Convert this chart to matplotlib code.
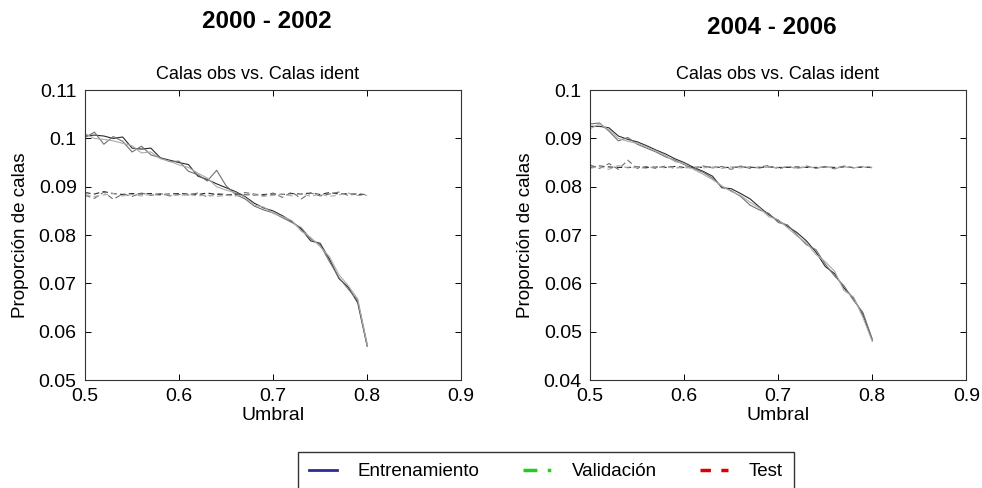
import numpy as np
import matplotlib.pyplot as plt
from matplotlib.lines import Line2D

plt.rcParams['font.family'] = ['Liberation Sans', 'DejaVu Sans']

# umbral 0.50 ... 0.80
umbral = np.round(np.arange(0.50, 0.805, 0.01), 2)

# 2000 - 2002, curva descendente
p1_dec_ent = [0.1005, 0.1007, 0.1005, 0.1000, 0.1003, 0.0980, 0.0978, 0.0980, 0.0960, 0.0955,
              0.0950, 0.0946, 0.0922, 0.0915, 0.0906, 0.0898, 0.0890, 0.0880, 0.0866, 0.0856,
              0.0850, 0.0840, 0.0828, 0.0812, 0.0788, 0.0783, 0.0750, 0.0710, 0.0692, 0.0660, 0.0570]
p1_dec_val = [0.1002, 0.1013, 0.0988, 0.1004, 0.0994, 0.0972, 0.0984, 0.0966, 0.0960, 0.0952,
              0.0953, 0.0932, 0.0925, 0.0912, 0.0934, 0.0902, 0.0884, 0.0875, 0.0860, 0.0852,
              0.0846, 0.0836, 0.0826, 0.0815, 0.0792, 0.0780, 0.0745, 0.0712, 0.0688, 0.0665, 0.0575]
p1_dec_test = [0.1010, 0.1000, 0.0998, 0.0995, 0.0990, 0.0985, 0.0970, 0.0972, 0.0958, 0.0953,
               0.0945, 0.0940, 0.0928, 0.0918, 0.0900, 0.0893, 0.0888, 0.0878, 0.0862, 0.0858,
               0.0845, 0.0838, 0.0830, 0.0808, 0.0795, 0.0776, 0.0755, 0.0718, 0.0695, 0.0668, 0.0572]
# 2000 - 2002, curva plana
p1_flat_ent = [0.0888, 0.0885, 0.0890, 0.0886, 0.0884, 0.0886, 0.0885, 0.0886, 0.0884, 0.0885,
               0.0886, 0.0885, 0.0884, 0.0887, 0.0884, 0.0883, 0.0885, 0.0884, 0.0883, 0.0884,
               0.0885, 0.0884, 0.0886, 0.0885, 0.0887, 0.0884, 0.0888, 0.0885, 0.0886, 0.0884, 0.0884]
p1_flat_val = [0.0882, 0.0876, 0.0889, 0.0874, 0.0885, 0.0880, 0.0887, 0.0882, 0.0886, 0.0881,
               0.0884, 0.0883, 0.0887, 0.0879, 0.0886, 0.0884, 0.0882, 0.0888, 0.0885, 0.0882,
               0.0887, 0.0878, 0.0889, 0.0875, 0.0887, 0.0881, 0.0885, 0.0889, 0.0882, 0.0886, 0.0883]
p1_flat_test = [0.0884, 0.0880, 0.0883, 0.0886, 0.0881, 0.0884, 0.0881, 0.0884, 0.0882, 0.0884,
                0.0882, 0.0884, 0.0881, 0.0883, 0.0880, 0.0882, 0.0881, 0.0883, 0.0884, 0.0880,
                0.0882, 0.0885, 0.0881, 0.0886, 0.0880, 0.0885, 0.0880, 0.0883, 0.0887, 0.0882, 0.0882]

# 2004 - 2006, curva descendente
p2_dec_ent = [0.0925, 0.0925, 0.0922, 0.0905, 0.0898, 0.0893, 0.0885, 0.0876, 0.0868, 0.0858,
              0.0850, 0.0840, 0.0832, 0.0822, 0.0798, 0.0796, 0.0786, 0.0775, 0.0758, 0.0742,
              0.0730, 0.0718, 0.0705, 0.0688, 0.0665, 0.0635, 0.0620, 0.0590, 0.0570, 0.0535, 0.0482]
p2_dec_val = [0.0930, 0.0932, 0.0915, 0.0895, 0.0902, 0.0888, 0.0880, 0.0872, 0.0862, 0.0855,
              0.0846, 0.0838, 0.0830, 0.0818, 0.0800, 0.0792, 0.0780, 0.0762, 0.0752, 0.0745,
              0.0726, 0.0721, 0.0700, 0.0680, 0.0670, 0.0640, 0.0615, 0.0595, 0.0565, 0.0540, 0.0485]
p2_dec_test = [0.0920, 0.0930, 0.0918, 0.0900, 0.0894, 0.0890, 0.0882, 0.0874, 0.0865, 0.0852,
               0.0848, 0.0836, 0.0826, 0.0815, 0.0802, 0.0790, 0.0782, 0.0768, 0.0756, 0.0738,
               0.0732, 0.0715, 0.0698, 0.0684, 0.0660, 0.0645, 0.0625, 0.0585, 0.0572, 0.0530, 0.0480]
# 2004 - 2006, curva plana
p2_flat_ent = [0.0840, 0.0843, 0.0841, 0.0840, 0.0840, 0.0841, 0.0840, 0.0841, 0.0840, 0.0842,
               0.0840, 0.0841, 0.0840, 0.0841, 0.0840, 0.0840, 0.0841, 0.0840, 0.0840, 0.0841,
               0.0840, 0.0840, 0.0841, 0.0840, 0.0840, 0.0841, 0.0840, 0.0841, 0.0840, 0.0840, 0.0840]
p2_flat_val = [0.0845, 0.0838, 0.0848, 0.0836, 0.0855, 0.0838, 0.0842, 0.0838, 0.0843, 0.0838,
               0.0842, 0.0837, 0.0843, 0.0839, 0.0842, 0.0836, 0.0843, 0.0838, 0.0841, 0.0844,
               0.0837, 0.0842, 0.0838, 0.0843, 0.0838, 0.0842, 0.0837, 0.0843, 0.0839, 0.0842, 0.0840]
p2_flat_test = [0.0838, 0.0842, 0.0836, 0.0844, 0.0839, 0.0840, 0.0838, 0.0842, 0.0839, 0.0841,
                0.0838, 0.0842, 0.0839, 0.0841, 0.0838, 0.0841, 0.0839, 0.0842, 0.0838, 0.0841,
                0.0839, 0.0842, 0.0838, 0.0841, 0.0839, 0.0842, 0.0838, 0.0841, 0.0839, 0.0841, 0.0839]

periodos = ['2000 - 2002', '2004 - 2006']
y_lims = [(0.05, 0.11), (0.04, 0.10)]
y_ticks = [[0.05, 0.06, 0.07, 0.08, 0.09, 0.1, 0.11], [0.04, 0.05, 0.06, 0.07, 0.08, 0.09, 0.1]]
x_ticks = [0.5, 0.6, 0.7, 0.8, 0.9]

paneles = [
    ([p1_dec_ent, p1_dec_val, p1_dec_test], [p1_flat_ent, p1_flat_val, p1_flat_test]),
    ([p2_dec_ent, p2_dec_val, p2_dec_test], [p2_flat_ent, p2_flat_val, p2_flat_test]),
]
grises = ['#2a2a2a', '#707070', '#ababab']
titulo_x = [0.459, 0.497]

fig = plt.figure(figsize=(9.82, 4.88), dpi=100)
ejes = [fig.add_axes([0.0866, 0.2213, 0.383, 0.594]),
        fig.add_axes([0.601, 0.2213, 0.383, 0.594])]

for i, ax in enumerate(ejes):
    dec, flat = paneles[i]
    for serie, c in zip(dec, grises):
        ax.plot(umbral, serie, color=c, lw=0.8)
    for serie, c in zip(flat, grises):
        ax.plot(umbral, serie, color=c, lw=0.8, ls=(0, (5, 3)))
    ax.set_xlim(0.5, 0.9)
    ax.set_ylim(*y_lims[i])
    ax.set_xticks(x_ticks)
    ax.set_xticklabels([f'{t:g}' for t in x_ticks])
    ax.set_yticks(y_ticks[i])
    ax.set_yticklabels([f'{t:g}' for t in y_ticks[i]])
    ax.tick_params(direction='in', top=True, right=True, labelsize=14, length=4, width=0.7)
    ax.tick_params(axis='y', pad=6)
    ax.tick_params(axis='x', pad=6)
    for s in ax.spines.values():
        s.set_linewidth(0.8)
        s.set_color('#333333')
    t = ax.set_title('Calas obs vs. Calas ident', fontsize=13, pad=8)
    t.set_x(titulo_x[i])
    ax.set_xlabel('Umbral', fontsize=14, labelpad=1)
    ax.set_ylabel('Proporción de calas', fontsize=13.5, labelpad=7)

fig.text(0.272, 0.955, periodos[0], ha='center', va='center', fontsize=17.5, fontweight='bold')
fig.text(0.786, 0.944, periodos[1], ha='center', va='center', fontsize=17.5, fontweight='bold')

handles = [Line2D([], [], color='#2b2b9a', lw=2),
           Line2D([], [], color='#22cc22', lw=2.5, ls=(0, (4, 3, 1, 3))),
           Line2D([], [], color='#dd0000', lw=2.5, ls=(0, (3, 3)))]
leg = fig.legend(handles, ['Entrenamiento', 'Validación', 'Test'], ncol=3,
                 loc='upper center', bbox_to_anchor=(0.556, 0.074), fontsize=13.5,
                 fancybox=False, edgecolor='black', handlelength=1.5, columnspacing=2.3,
                 handletextpad=1.1, borderpad=0.6, borderaxespad=0)
leg.get_frame().set_linewidth(1.0)

fig.savefig('out.png', dpi=100)
